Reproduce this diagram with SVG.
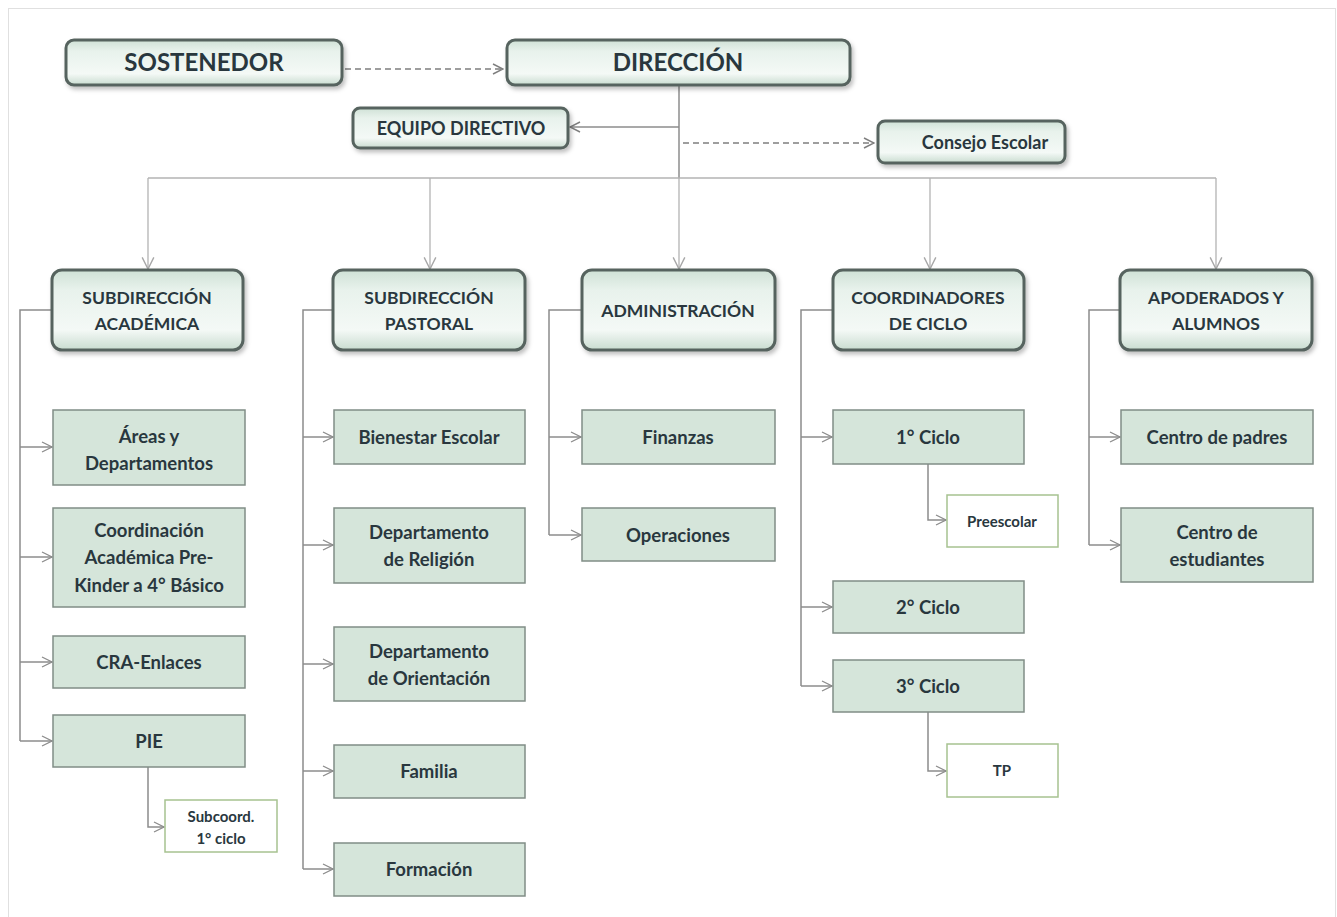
<svg xmlns="http://www.w3.org/2000/svg" width="1337" height="917" viewBox="0 0 1337 917">
<defs>
<linearGradient id="g" x1="0" y1="0" x2="0" y2="1">
<stop offset="0" stop-color="#cfe1d6"/>
<stop offset="0.25" stop-color="#e8f2ec"/>
<stop offset="0.75" stop-color="#f4f9f6"/>
<stop offset="1" stop-color="#c9dcd0"/>
</linearGradient>
<filter id="sh" x="-10%" y="-20%" width="125%" height="150%">
<feDropShadow dx="2" dy="3" stdDeviation="2" flood-color="#000" flood-opacity="0.25"/>
</filter>
<marker id="ah" viewBox="0 0 12 12" refX="11" refY="6" markerWidth="12" markerHeight="12" markerUnits="userSpaceOnUse" orient="auto">
<path d="M1,1 L11,6 L1,11" fill="none" stroke="#8c8c8c" stroke-width="1.3"/>
</marker>
<marker id="ah2" viewBox="0 0 12 12" refX="11" refY="6" markerWidth="14" markerHeight="14" markerUnits="userSpaceOnUse" orient="auto">
<path d="M1,1 L11,6 L1,11" fill="none" stroke="#a8a8a8" stroke-width="1.2"/>
</marker>
<marker id="ah3" viewBox="0 0 12 12" refX="11" refY="6" markerWidth="12" markerHeight="12" markerUnits="userSpaceOnUse" orient="auto">
<path d="M1,1 L11,6 L1,11" fill="none" stroke="#7f7f7f" stroke-width="1.5"/>
</marker>
</defs>
<style>
.t{font-family:Lato,"Open Sans","Liberation Sans",sans-serif;font-weight:bold;fill:#29373e;text-anchor:middle}
.big{font-size:24px}
.l1{font-size:18px}
.l2{font-size:17.5px}
.l3{font-size:18.5px}
.sm{font-size:15px}
.rb{fill:url(#g);stroke:#56645e;stroke-width:3;filter:url(#sh)}
.sq{fill:#d5e5da;stroke:#808d86;stroke-width:1.5}
.wb{fill:#ffffff;stroke:#a7c290;stroke-width:1.5}
.c{fill:none;stroke:#8c8c8c;stroke-width:1.5}
.ct{fill:none;stroke:#b3b3b3;stroke-width:1.3}
.d{fill:none;stroke:#7f7f7f;stroke-width:1.6;stroke-dasharray:6,4}
</style>
<rect width="1337" height="917" fill="#ffffff"/>
<rect x="8.5" y="8.5" width="1327" height="920" fill="none" stroke="#e0e0e0" stroke-width="1"/>

<g id="connectors">
<path class="d" d="M345,69 H503" marker-end="url(#ah3)"/>
<path class="c" d="M679,86 V178"/>
<path class="c" d="M679,127 H570" marker-end="url(#ah3)"/>
<path class="d" d="M683,143 H874" marker-end="url(#ah3)"/>
<path class="ct" d="M148,178 H1216"/>
<path class="ct" d="M148,178 V269" marker-end="url(#ah2)"/>
<path class="ct" d="M430,178 V269" marker-end="url(#ah2)"/>
<path class="ct" d="M679,178 V269" marker-end="url(#ah2)"/>
<path class="ct" d="M930,178 V269" marker-end="url(#ah2)"/>
<path class="ct" d="M1216,178 V269" marker-end="url(#ah2)"/>

<path class="c" d="M52,310 H20 V741"/>
<path class="c" d="M20,447 H52" marker-end="url(#ah)"/>
<path class="c" d="M20,557 H52" marker-end="url(#ah)"/>
<path class="c" d="M20,662 H52" marker-end="url(#ah)"/>
<path class="c" d="M20,741 H52" marker-end="url(#ah)"/>
<path class="c" d="M148,767 V827 H164" marker-end="url(#ah)"/>

<path class="c" d="M333,310 H303 V869"/>
<path class="c" d="M303,437 H333" marker-end="url(#ah)"/>
<path class="c" d="M303,545 H333" marker-end="url(#ah)"/>
<path class="c" d="M303,664 H333" marker-end="url(#ah)"/>
<path class="c" d="M303,771 H333" marker-end="url(#ah)"/>
<path class="c" d="M303,869 H333" marker-end="url(#ah)"/>

<path class="c" d="M582,310 H549 V535"/>
<path class="c" d="M549,437 H581" marker-end="url(#ah)"/>
<path class="c" d="M549,535 H581" marker-end="url(#ah)"/>

<path class="c" d="M833,310 H801 V686"/>
<path class="c" d="M801,437 H832" marker-end="url(#ah)"/>
<path class="c" d="M801,607 H832" marker-end="url(#ah)"/>
<path class="c" d="M801,686 H832" marker-end="url(#ah)"/>
<path class="c" d="M928,464 V520 H946" marker-end="url(#ah)"/>
<path class="c" d="M928,712 V771 H946" marker-end="url(#ah)"/>

<path class="c" d="M1120,310 H1089 V545"/>
<path class="c" d="M1089,437 H1120" marker-end="url(#ah)"/>
<path class="c" d="M1089,545 H1120" marker-end="url(#ah)"/>
</g>

<g id="sostenedor"><rect class="rb" x="66" y="40" width="276" height="45" rx="8"/><text class="t big" x="204" y="71">SOSTENEDOR</text></g>
<g id="direccion"><rect class="rb" x="507" y="40" width="343" height="45" rx="8"/><text class="t big" x="678" y="71">DIRECCIÓN</text></g>
<g id="equipo"><rect class="rb" x="353" y="108" width="215" height="40" rx="7"/><text class="t l1" x="461" y="135">EQUIPO DIRECTIVO</text></g>
<g id="consejo"><rect class="rb" x="878" y="121" width="187" height="42" rx="7"/><text class="t l1" x="985" y="149">Consejo Escolar</text></g>

<g id="sub-academica"><rect class="rb" x="52" y="270" width="191" height="80" rx="10"/><text class="t l2" x="147" y="304">SUBDIRECCIÓN</text><text class="t l2" x="147" y="330">ACADÉMICA</text></g>
<g id="sub-pastoral"><rect class="rb" x="333" y="270" width="192" height="80" rx="10"/><text class="t l2" x="429" y="304">SUBDIRECCIÓN</text><text class="t l2" x="429" y="330">PASTORAL</text></g>
<g id="administracion"><rect class="rb" x="582" y="270" width="193" height="80" rx="10"/><text class="t l2" x="678" y="317">ADMINISTRACIÓN</text></g>
<g id="coordinadores"><rect class="rb" x="833" y="270" width="191" height="80" rx="10"/><text class="t l2" x="928" y="304">COORDINADORES</text><text class="t l2" x="928" y="330">DE CICLO</text></g>
<g id="apoderados"><rect class="rb" x="1120" y="270" width="192" height="80" rx="10"/><text class="t l2" x="1216" y="304">APODERADOS Y</text><text class="t l2" x="1216" y="330">ALUMNOS</text></g>

<g id="areas"><rect class="sq" x="53" y="410" width="192" height="75"/><text class="t l3" x="149" y="443">Áreas y</text><text class="t l3" x="149" y="470">Departamentos</text></g>
<g id="coord-academica"><rect class="sq" x="53" y="508" width="192" height="99"/><text class="t l3" x="149" y="537">Coordinación</text><text class="t l3" x="149" y="564">Académica  Pre-</text><text class="t l3" x="149" y="592">Kinder a 4° Básico</text></g>
<g id="cra"><rect class="sq" x="53" y="636" width="192" height="52"/><text class="t l3" x="149" y="669">CRA-Enlaces</text></g>
<g id="pie"><rect class="sq" x="53" y="715" width="192" height="52"/><text class="t l3" x="149" y="748">PIE</text></g>
<g id="subcoord"><rect class="wb" x="165" y="800" width="112" height="52"/><text class="t sm" x="221" y="822">Subcoord.</text><text class="t sm" x="221" y="844">1° ciclo</text></g>

<g id="bienestar"><rect class="sq" x="334" y="410" width="191" height="54"/><text class="t l3" x="429" y="444">Bienestar Escolar</text></g>
<g id="religion"><rect class="sq" x="334" y="508" width="191" height="75"/><text class="t l3" x="429" y="539">Departamento</text><text class="t l3" x="429" y="566">de Religión</text></g>
<g id="orientacion"><rect class="sq" x="334" y="627" width="191" height="74"/><text class="t l3" x="429" y="658">Departamento</text><text class="t l3" x="429" y="685">de Orientación</text></g>
<g id="familia"><rect class="sq" x="334" y="745" width="191" height="53"/><text class="t l3" x="429" y="778">Familia</text></g>
<g id="formacion"><rect class="sq" x="334" y="843" width="191" height="53"/><text class="t l3" x="429" y="876">Formación</text></g>

<g id="finanzas"><rect class="sq" x="582" y="410" width="193" height="54"/><text class="t l3" x="678" y="444">Finanzas</text></g>
<g id="operaciones"><rect class="sq" x="582" y="508" width="193" height="53"/><text class="t l3" x="678" y="542">Operaciones</text></g>

<g id="ciclo1"><rect class="sq" x="833" y="410" width="191" height="54"/><text class="t l3" x="928" y="444">1° Ciclo</text></g>
<g id="preescolar"><rect class="wb" x="947" y="495" width="111" height="52"/><text class="t sm" x="1002" y="527">Preescolar</text></g>
<g id="ciclo2"><rect class="sq" x="833" y="581" width="191" height="52"/><text class="t l3" x="928" y="614">2° Ciclo</text></g>
<g id="ciclo3"><rect class="sq" x="833" y="660" width="191" height="52"/><text class="t l3" x="928" y="693">3° Ciclo</text></g>
<g id="tp"><rect class="wb" x="947" y="744" width="111" height="53"/><text class="t sm" x="1002" y="776">TP</text></g>

<g id="centro-padres"><rect class="sq" x="1121" y="410" width="192" height="54"/><text class="t l3" x="1217" y="444">Centro de padres</text></g>
<g id="centro-estudiantes"><rect class="sq" x="1121" y="508" width="192" height="74"/><text class="t l3" x="1217" y="539">Centro de</text><text class="t l3" x="1217" y="566">estudiantes</text></g>
</svg>
